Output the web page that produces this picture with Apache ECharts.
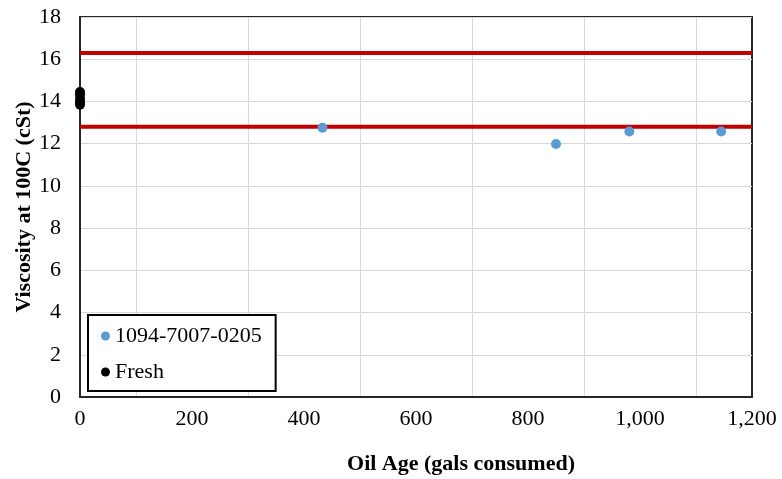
<!DOCTYPE html>
<html>
<head>
<meta charset="utf-8">
<script src="https://cdn.jsdelivr.net/npm/echarts@6/dist/echarts.min.js"></script>
<style>
html,body{margin:0;padding:0;background:#fff;}
#chart{width:782px;height:479px;}
</style>
</head>
<body>
<div id="chart"></div>
<script>
// Oil samples: [gallons consumed, viscosity cSt]
const sampleAge = [433, 850, 981, 1145];
const sampleVisc = [12.75, 11.98, 12.58, 12.58];
const freshAge = [0, 0, 0, 0, 0];
const freshVisc = [14.45, 14.3, 14.1, 13.95, 13.85];
// Viscosity limits
const upperLimit = 16.3;
const lowerLimit = 12.8;
const xRange = [0, 1200];

const font = '"Liberation Serif", "Times New Roman", serif';
const fs = 22;

const chart = echarts.init(document.getElementById('chart'), null, {renderer: 'canvas'});

const limitSeries = (v) => ({
  type: 'line',
  data: [[xRange[0], v], [xRange[1], v]],
  symbol: 'none',
  lineStyle: {color: '#c00000', width: 4},
  silent: true,
  z: 2
});

chart.setOption({
  animation: false,
  backgroundColor: '#fff',
  grid: {left: 80, right: 30, top: 17, bottom: 82, show: true,
    borderColor: '#262626', borderWidth: 2, containLabel: false, outerBoundsMode: 'none'},
  xAxis: {
    type: 'value', min: 0, max: 1200, interval: 200,
    axisLine: {show: true, onZero: false, lineStyle: {color: '#262626', width: 2}},
    axisTick: {show: false},
    axisLabel: {fontFamily: font, fontSize: fs, color: '#000', margin: 11,
      formatter: v => v.toLocaleString('en-US')},
    splitLine: {show: false},
    minorTick: {show: false, splitNumber: 2},
    minorSplitLine: {show: true, lineStyle: {color: '#d9d9d9', width: 1}},
    name: 'Oil Age (gals consumed)', nameLocation: 'middle', nameGap: 56,
    nameMoveOverlap: false,
    nameTextStyle: {fontFamily: font, fontSize: fs, fontWeight: 'bold', color: '#000',
      padding: [0, 0, 0, 90]}
  },
  yAxis: {
    type: 'value', min: 0, max: 18, interval: 2,
    axisLine: {show: true, lineStyle: {color: '#262626', width: 2}},
    axisTick: {show: false},
    axisLabel: {fontFamily: font, fontSize: fs, color: '#000', margin: 19},
    splitLine: {show: true, lineStyle: {color: '#d9d9d9', width: 1}},
    name: 'Viscosity at 100C (cSt)', nameLocation: 'middle', nameGap: 45,
    nameMoveOverlap: false,
    nameTextStyle: {fontFamily: font, fontSize: fs, fontWeight: 'bold', color: '#000'}
  },
  legend: {
    orient: 'vertical', left: 88, top: 315, width: 187, height: 76,
    padding: [10, 14, 8, 13],
    backgroundColor: '#fff', borderColor: '#000', borderWidth: 2,
    itemWidth: 9, itemHeight: 9, itemGap: 14,
    icon: 'circle',
    textStyle: {fontFamily: font, fontSize: fs, color: '#000', padding: [0, 0, 0, 0]},
    data: ['1094-7007-0205', 'Fresh']
  },
  series: [
    limitSeries(upperLimit),
    limitSeries(lowerLimit),
    {
      name: '1094-7007-0205', type: 'scatter', symbol: 'circle', symbolSize: 10,
      itemStyle: {color: '#5b9bd5', opacity: 1},
      data: sampleAge.map((a, i) => [a, sampleVisc[i]]), z: 4
    },
    {
      name: 'Fresh', type: 'scatter', symbol: 'circle', symbolSize: 10,
      itemStyle: {color: '#000', opacity: 1},
      data: freshAge.map((a, i) => [a, freshVisc[i]]), z: 5, clip: false
    }
  ]
});
</script>
</body>
</html>
